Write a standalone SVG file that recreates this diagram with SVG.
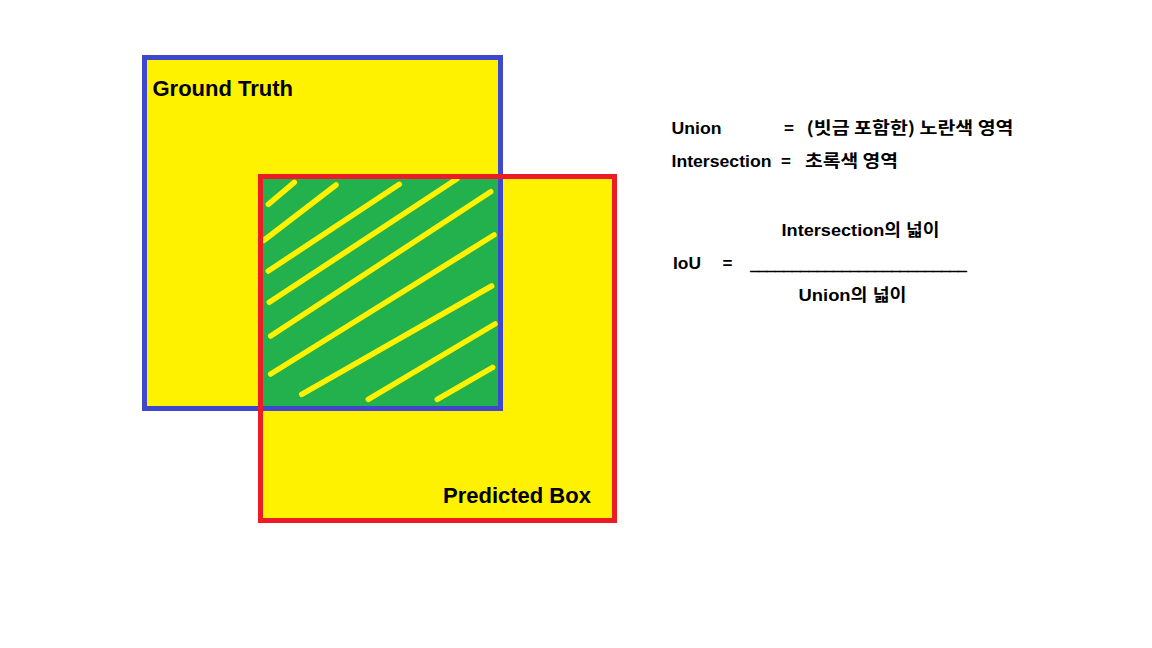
<svg xmlns="http://www.w3.org/2000/svg" width="1152" height="648" viewBox="0 0 1152 648">
<style>
.t{font-family:"Liberation Sans","Noto Sans CJK KR",sans-serif;font-weight:bold;fill:#000}
.k{font-family:"Noto Sans CJK KR","Liberation Sans",sans-serif;font-weight:bold;fill:#000}
.big{font-size:22px}
.sm{font-size:17px}
.hatch{stroke:#FFF200;stroke-width:5.5;stroke-linecap:round;fill:none}
</style>
<rect x="0" y="0" width="1152" height="648" fill="#fff"/>
<g id="fills">
<rect x="144.5" y="57.5" width="356" height="351" fill="#FFF200"/>
<rect x="260.5" y="176.5" width="354" height="344" fill="#FFF200"/>
</g>
<g id="intersection">
<rect x="263" y="179" width="235" height="227" fill="#22B14C"/>
<g class="hatch">
<line x1="268.3" y1="204.3" x2="294.3" y2="182.3"/>
<line x1="264" y1="240.3" x2="336" y2="185"/>
<line x1="268.3" y1="271" x2="399.3" y2="184.3"/>
<line x1="269.3" y1="302.3" x2="456.7" y2="179"/>
<line x1="270.7" y1="336" x2="490.7" y2="191.7"/>
<line x1="270.7" y1="374" x2="494" y2="235"/>
<line x1="301.7" y1="394.3" x2="491.7" y2="286"/>
<line x1="368.3" y1="399.3" x2="495" y2="324"/>
<line x1="437.3" y1="399.3" x2="492.7" y2="367.3"/>
</g>
</g>
<g id="ground-truth">
<rect x="144.5" y="57.5" width="356" height="351" fill="none" stroke="#3F48CC" stroke-width="5"/>
<text class="t big" x="152.5" y="96">Ground Truth</text>
</g>
<g id="predicted-box">
<rect x="260.5" y="176.5" width="354" height="344" fill="none" stroke="#ED1C24" stroke-width="5"/>
<text class="t big" x="443" y="503">Predicted Box</text>
</g>
<g id="connectors"></g>
<g id="legend">
<text class="t sm" x="671.5" y="134" textLength="50" lengthAdjust="spacingAndGlyphs">Union</text>
<text class="t sm" x="784" y="134">=</text>
<text class="k sm" x="806.5" y="134" textLength="207" lengthAdjust="spacingAndGlyphs">(빗금 포함한) 노란색 영역</text>
<text class="t sm" x="671.5" y="166.5" textLength="100" lengthAdjust="spacingAndGlyphs">Intersection</text>
<text class="t sm" x="781" y="166.5">=</text>
<text class="k sm" x="805" y="166.5" textLength="93" lengthAdjust="spacingAndGlyphs">초록색 영역</text>
</g>
<g id="formula">
<text class="t sm" x="781.5" y="235.5" textLength="158" lengthAdjust="spacingAndGlyphs">Intersection의 넓이</text>
<text class="t sm" x="673" y="268.5" textLength="28" lengthAdjust="spacingAndGlyphs">IoU</text>
<text class="t sm" x="722.5" y="268.5">=</text>
<text class="t sm" x="750.5" y="269.5" textLength="216" lengthAdjust="spacingAndGlyphs" stroke="#000" stroke-width="0.9">__________________________</text>
<text class="t sm" x="798.5" y="300.5" textLength="108" lengthAdjust="spacingAndGlyphs">Union의 넓이</text>
</g>
</svg>
